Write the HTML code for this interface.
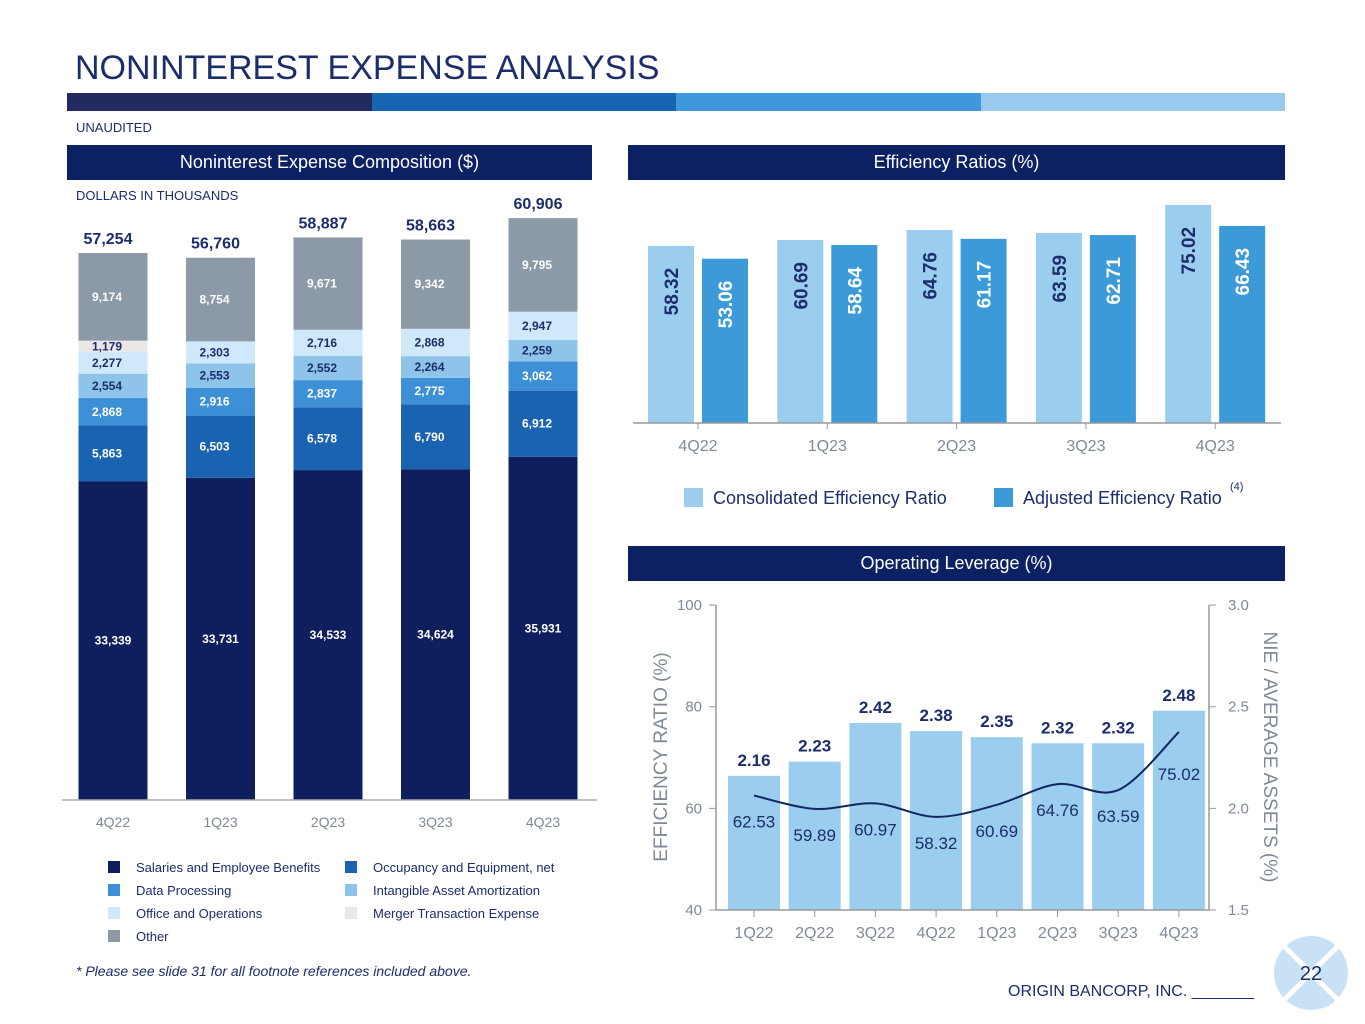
<!DOCTYPE html>
<html><head><meta charset="utf-8">
<style>
body{margin:0;width:1365px;height:1024px;background:#fff;font-family:"Liberation Sans",Arial,sans-serif;overflow:hidden;position:relative}
.abs{position:absolute}
.hdr{position:absolute;background:#0c2163;color:#fff;font-size:18px;text-align:center;line-height:35px;height:35px}
svg text{font-family:"Liberation Sans",Arial,sans-serif}
</style></head><body>
<div class="abs" style="left:75px;top:49px;font-size:34px;color:#1c2d6b;">NONINTEREST EXPENSE ANALYSIS</div>
<div class="abs" style="left:67px;top:93px;width:1218px;height:18px;display:flex">
<div style="flex:1;background:#232a60"></div><div style="flex:1;background:#1565b0"></div><div style="flex:1;background:#3f98db"></div><div style="flex:1;background:#99c9ec"></div></div>
<div class="abs" style="left:76px;top:120px;font-size:13px;color:#1c2d6b">UNAUDITED</div>
<div class="hdr" style="left:67px;top:145px;width:525px">Noninterest Expense Composition ($)</div>
<div class="hdr" style="left:628px;top:145px;width:657px">Efficiency Ratios (%)</div>
<div class="hdr" style="left:628px;top:546px;width:657px">Operating Leverage (%)</div>
<div class="abs" style="left:76px;top:188px;font-size:13px;color:#1c2d6b">DOLLARS IN THOUSANDS</div>
<svg class="abs" style="left:0;top:0" width="1365" height="1024" id="svg"></svg>
<div class="abs" style="left:76px;top:963px;font-size:14px;font-style:italic;color:#1c2d6b">* Please see slide 31 for all footnote references included above.</div>
<div class="abs" style="left:1008px;top:983px;font-size:16px;color:#1c2d6b">ORIGIN BANCORP, INC. _______</div>
<svg class="abs" style="left:1272px;top:934px" width="78" height="78">
<circle cx="39" cy="39" r="37" fill="#c9e1f4"/><line x1="12" y1="12" x2="66" y2="66" stroke="#fff" stroke-width="5"/><line x1="66" y1="12" x2="12" y2="66" stroke="#fff" stroke-width="5"/>
<text x="39" y="46" font-size="20" fill="#1c2d6b" text-anchor="middle">22</text></svg>
<script>
const NS='http://www.w3.org/2000/svg';const svg=document.getElementById('svg');
function mk(t,a,txt){const e=document.createElementNS(NS,t);for(const k in a)e.setAttribute(k,a[k]);if(txt!==undefined)e.textContent=txt;svg.appendChild(e);return e;}
// ---- composition chart data
const compCats=['4Q22','1Q23','2Q23','3Q23','4Q23'];
const salaries=[33339,33731,34533,34624,35931];
const occupancy=[5863,6503,6578,6790,6912];
const dataProc=[2868,2916,2837,2775,3062];
const intangible=[2554,2553,2552,2264,2259];
const office=[2277,2303,2716,2868,2947];
const merger=[1179,0,0,0,0];
const other=[9174,8754,9671,9342,9795];
// ---- efficiency data
const effCats=['4Q22','1Q23','2Q23','3Q23','4Q23'];
const consolidated=[58.32,60.69,64.76,63.59,75.02];
const adjusted=[53.06,58.64,61.17,62.71,66.43];
// ---- operating leverage data
const olCats=['1Q22','2Q22','3Q22','4Q22','1Q23','2Q23','3Q23','4Q23'];
const nieAssets=[2.16,2.23,2.42,2.38,2.35,2.32,2.32,2.48];
const effRatio=[62.53,59.89,60.97,58.32,60.69,64.76,63.59,75.02];
const leftTicks=[40,60,80,100];
const rightTicks=['1.5','2.0','2.5','3.0'];

// composition
const cY=v=>800-v*0.009554;const cX=i=>113+i*107.5;
const series=[[salaries,'#0f1f5e','#fff','Salaries and Employee Benefits'],[occupancy,'#1a63b0','#fff','Occupancy and Equipment, net'],[dataProc,'#3d8fd6','#fff','Data Processing'],[intangible,'#8ec3ea','#1c2d6b','Intangible Asset Amortization'],[office,'#cfe9fb','#1c2d6b','Office and Operations'],[merger,'#e8e8e8','#1c2d6b','Merger Transaction Expense'],[other,'#8c9aa8','#fff','Other']];
compCats.forEach((c,i)=>{let acc=0;
 series.forEach((s,si)=>{const v=s[0][i];if(!v)return;const y0=cY(acc),y1=cY(acc+v);
  const r=mk('rect',{x:cX(i)-34.5,y:y1,width:69,height:y0-y1,fill:s[1]});
  
  const t=mk('text',{x:cX(i)-21,y:(y0+y1)/2+4,'font-size':12,'font-weight':'bold',fill:s[2]},v.toLocaleString('en-US'));
  if(si===0)t.setAttribute('x',cX(i)),t.setAttribute('text-anchor','middle');
  
  acc+=v;});
 const tl=mk('text',{x:cX(i)-5,y:cY(acc)-9,'font-size':16,'font-weight':'bold',fill:'#1c2d6b','text-anchor':'middle'},acc.toLocaleString('en-US'));
 
 const xl=mk('text',{x:cX(i),y:827,'font-size':14,fill:'#7f8a96','text-anchor':'middle'},c);
 
});
const ax=mk('line',{x1:62,x2:597,y1:800,y2:800,stroke:'#aaa','stroke-width':1.5});
series.forEach((s,si)=>{const col=si%2,row=Math.floor(si/2);const x=108+col*237,y=861+row*23;
 const r=mk('rect',{x:x,y:y,width:12,height:12,fill:s[1]});
 const t=mk('text',{x:x+28,y:y+11,'font-size':13,fill:'#1c2d6b'},s[3]);});

// efficiency
const eY=v=>423-(v+14)*2.45;const eX=i=>698+i*129.3;
effCats.forEach((c,i)=>{
 [[consolidated,'#9bcdee','#1c2d6b',-50],[adjusted,'#3d9ad8','#fff',4]].forEach((s,k)=>{
  const v=s[0][i],x=eX(i)+s[3],y=eY(v);
  const r=mk('rect',{x:x,y:y,width:46,height:423-y,fill:s[1]});
  
  const t=mk('text',{x:0,y:0,'font-size':19,'font-weight':'bold',fill:s[2],'text-anchor':'end',transform:`translate(${x+30},${y+22}) rotate(-90)`},v.toFixed(2));
  });
 const xl=mk('text',{x:eX(i),y:451,'font-size':16,fill:'#7f8a96','text-anchor':'middle'},c);
 
 const tk=mk('line',{x1:eX(i),x2:eX(i),y1:423,y2:429,stroke:'#999'});
});
const ax2=mk('line',{x1:633,x2:1281,y1:423,y2:423,stroke:'#999','stroke-width':1.5});
[[684,'#9bcdee','Consolidated Efficiency Ratio'],[994,'#3d9ad8','Adjusted Efficiency Ratio']].forEach((l,k)=>{
 const r=mk('rect',{x:l[0],y:488,width:19,height:19,fill:l[1]});
 const t=mk('text',{x:l[0]+29,y:504,'font-size':18,fill:'#1c2d6b'},l[2]);});
const fn=mk('text',{x:1230,y:490,'font-size':11,fill:'#1c2d6b'},'(4)');

// operating leverage
const oX=i=>754+i*60.7;const lY=v=>910-(v-40)*5.083;const rY=v=>910-(v-1.5)*203.3;
olCats.forEach((c,i)=>{const y=rY(nieAssets[i]);
 const r=mk('rect',{x:oX(i)-26,y:y,width:52,height:910-y,fill:'#9bcdee'});
 const t=mk('text',{x:oX(i),y:y-10,'font-size':17,'font-weight':'bold',fill:'#1c2d6b','text-anchor':'middle'},nieAssets[i].toFixed(2));
 const ly=lY(effRatio[i]);const off=(i===7)?48:32;
 const t2=mk('text',{x:oX(i),y:ly+off,'font-size':17,fill:'#1c2d6b','text-anchor':'middle'},effRatio[i].toFixed(2));
 const xl=mk('text',{x:oX(i),y:938,'font-size':16,fill:'#7f8a96','text-anchor':'middle'},c);
 const tk=mk('line',{x1:oX(i),x2:oX(i),y1:910,y2:917,stroke:'#999'});
});
let d='';const pts=effRatio.map((v,i)=>[oX(i),lY(v)]);
pts.forEach((p,i)=>{if(!i){d='M'+p[0]+','+p[1];return;}const p0=pts[i-1],pm=pts[i-2]||p0,pn=pts[i+1]||p;
 const c1=[p0[0]+(p[0]-pm[0])/6,p0[1]+(p[1]-pm[1])/6],c2=[p[0]-(pn[0]-p0[0])/6,p[1]-(pn[1]-p0[1])/6];
 d+=` C${c1[0]},${c1[1]} ${c2[0]},${c2[1]} ${p[0]},${p[1]}`;});
const ln=mk('path',{d:d,fill:'none',stroke:'#12275f','stroke-width':2});
const axes=[['line',{x1:716,x2:1209,y1:910,y2:910}],['line',{x1:716,x2:716,y1:605,y2:910}],['line',{x1:1209,x2:1209,y1:605,y2:910}]];
axes.forEach((a,k)=>{a[1].stroke='#999';a[1]['stroke-width']=1.5;const e=mk(a[0],a[1]);});
leftTicks.forEach(v=>{const y=lY(v);const tk=mk('line',{x1:709,x2:716,y1:y,y2:y,stroke:'#999'});
 const t=mk('text',{x:702,y:y+5,'font-size':15,fill:'#7f8a96','text-anchor':'end'},v);});
rightTicks.forEach(v=>{const y=rY(+v);const tk=mk('line',{x1:1209,x2:1216,y1:y,y2:y,stroke:'#999'});
 const t=mk('text',{x:1228,y:y+5,'font-size':15,fill:'#7f8a96'},v);});
const lt=mk('text',{x:0,y:0,'font-size':19,fill:'#7f8a96','text-anchor':'middle',transform:'translate(667,757) rotate(-90)'},'EFFICIENCY RATIO (%)');
const rt=mk('text',{x:0,y:0,'font-size':19,fill:'#7f8a96','text-anchor':'middle',transform:'translate(1264,757) rotate(90)'},'NIE / AVERAGE ASSETS (%)');
</script>
</body></html>
